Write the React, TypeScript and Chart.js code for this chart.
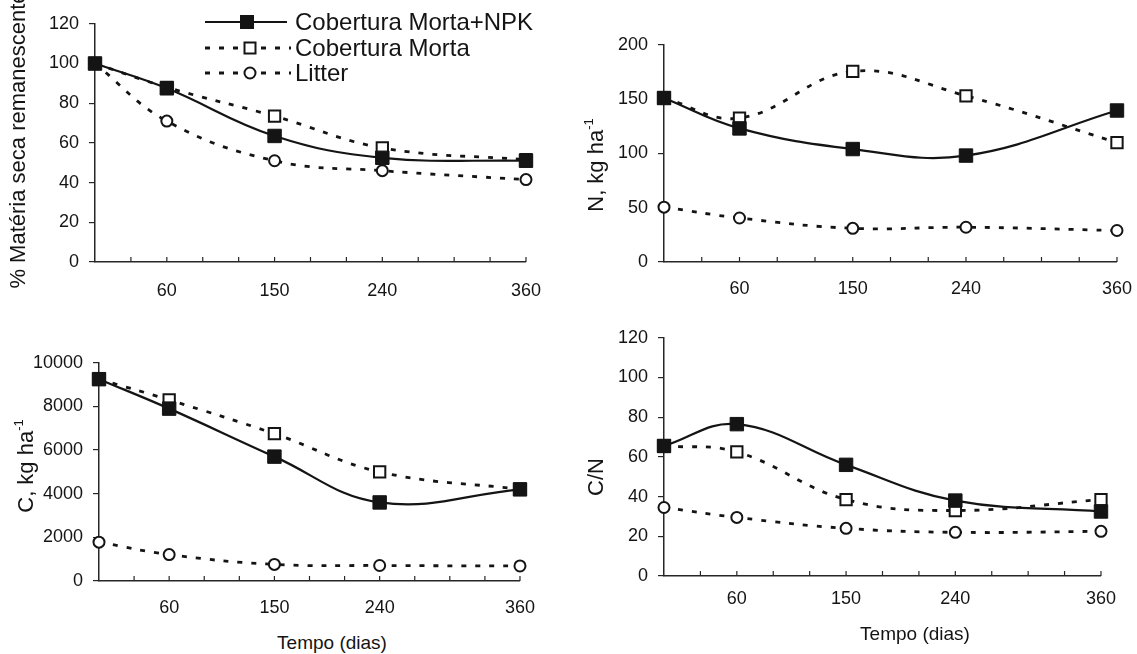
import React, { useEffect, useRef } from "react";
import { Chart, registerables } from "chart.js";

Chart.register(...registerables);

// ---------------- data ----------------
const days = [0, 60, 150, 240, 360];
const xTickLabels = [60, 150, 240, 360];
const minorTickStep = 30;

const seriesNames = ["Cobertura Morta+NPK", "Cobertura Morta", "Litter"];

// % Matéria seca remanescente
const msNPK = [100, 87.5, 63.5, 52.5, 51];
const msCM = [100, 88, 73.5, 57.5, 51.5];
const msLitter = [100, 71, 51, 46, 41.5];

// N, kg ha-1
const nNPK = [151, 123, 104, 98, 139.5];
const nCM = [151, 132.5, 175.5, 153, 110];
const nLitter = [50.5, 40.5, 31, 32, 29];

// C, kg ha-1
const cNPK = [9250, 7900, 5700, 3600, 4200];
const cCM = [9250, 8300, 6750, 5000, 4200];
const cLitter = [1780, 1210, 760, 710, 690];

// C/N
const cnNPK = [65.5, 76.5, 56, 38, 32.5];
const cnCM = [65.5, 62.5, 38.5, 33, 38.5];
const cnLitter = [34.5, 29.5, 24, 22, 22.5];

// ---------------- styling ----------------
const FONT = '"Liberation Sans", Arial, Helvetica, sans-serif';
const INK = "#141414";
const AXIS = "#262626";
const DASH = [5, 9];
const Y_W = 80;
const X_H = 50;
const PAD_T = 20;
const PAD_R = 20;

type PanelCfg = {
  key: string;
  left: number;
  right: number;
  top: number;
  bottom: number;
  yMax: number;
  yStep: number;
  xPad: number;
  series: number[][];
};

const panels: PanelCfg[] = [
  { key: "ms", left: 95, right: 539, top: 23, bottom: 262, yMax: 120, yStep: 20, xPad: 18, series: [msNPK, msCM, msLitter] },
  { key: "n", left: 664, right: 1128, top: 44, bottom: 262, yMax: 200, yStep: 50, xPad: 16, series: [nNPK, nCM, nLitter] },
  { key: "c", left: 99, right: 531, top: 362, bottom: 581, yMax: 10000, yStep: 2000, xPad: 16, series: [cNPK, cCM, cLitter] },
  { key: "cn", left: 664, right: 1108, top: 337, bottom: 576, yMax: 120, yStep: 20, xPad: 12, series: [cnNPK, cnCM, cnLitter] },
];

const innerXTicks = {
  id: "innerXTicks",
  afterDraw(chart: any) {
    const xs = chart.scales.x;
    const { ctx, chartArea } = chart;
    ctx.save();
    ctx.strokeStyle = AXIS;
    ctx.lineWidth = 1.2;
    for (let v = xs.min + minorTickStep; v <= xs.max + 0.001; v += minorTickStep) {
      const px = xs.getPixelForValue(v);
      ctx.beginPath();
      ctx.moveTo(px, chartArea.bottom);
      ctx.lineTo(px, chartArea.bottom - 5);
      ctx.stroke();
    }
    ctx.restore();
  },
};

function makeDatasets(series: number[][]) {
  const pts = (vals: number[]) => days.map((d, i) => ({ x: d, y: vals[i] }));
  return [
    {
      label: seriesNames[0],
      data: pts(series[0]),
      borderColor: INK,
      backgroundColor: INK,
      borderWidth: 2.2,
      tension: 0.4,
      pointStyle: "rect",
      pointRadius: 9.5,
      pointBorderWidth: 1,
      pointBackgroundColor: INK,
      pointBorderColor: INK,
      clip: false,
    },
    {
      label: seriesNames[1],
      data: pts(series[1]),
      borderColor: INK,
      backgroundColor: "#fff",
      borderWidth: 2.8,
      borderDash: DASH,
      tension: 0.4,
      pointStyle: "rect",
      pointRadius: 8,
      pointBorderWidth: 2,
      pointBackgroundColor: "#fff",
      pointBorderColor: INK,
      clip: false,
    },
    {
      label: seriesNames[2],
      data: pts(series[2]),
      borderColor: INK,
      backgroundColor: "#fff",
      borderWidth: 2.8,
      borderDash: DASH,
      tension: 0.4,
      pointStyle: "circle",
      pointRadius: 5.5,
      pointBorderWidth: 2,
      pointBackgroundColor: "#fff",
      pointBorderColor: INK,
      clip: false,
    },
  ];
}

function Panel({ cfg }: { cfg: PanelCfg }) {
  const ref = useRef<HTMLCanvasElement | null>(null);
  const w = cfg.right - cfg.left + Y_W + PAD_R;
  const h = cfg.bottom - cfg.top + PAD_T + X_H;
  useEffect(() => {
    if (!ref.current) return;
    const chart = new Chart(ref.current, {
      type: "line",
      data: { datasets: makeDatasets(cfg.series) as any },
      options: {
        animation: false,
        responsive: false,
        devicePixelRatio: 1,
        layout: { padding: { top: PAD_T, right: PAD_R, left: 0, bottom: 0 } },
        plugins: { legend: { display: false }, tooltip: { enabled: false } },
        scales: {
          x: {
            type: "linear",
            min: 0,
            max: 360,
            afterBuildTicks: (axis: any) => {
              axis.ticks = xTickLabels.map((v) => ({ value: v }));
            },
            afterFit: (scale: any) => {
              scale.height = X_H;
            },
            ticks: {
              font: { family: FONT, size: 18 },
              color: INK,
              padding: cfg.xPad,
              maxRotation: 0,
              autoSkip: false,
              callback: (v: any) => String(v),
            },
            grid: { display: false, drawTicks: false },
            border: { display: true, color: AXIS, width: 1.5 },
          },
          y: {
            min: 0,
            max: cfg.yMax,
            afterFit: (scale: any) => {
              scale.width = Y_W;
            },
            ticks: {
              stepSize: cfg.yStep,
              font: { family: FONT, size: 18 },
              color: INK,
              padding: 10,
              callback: (v: any) => String(v),
            },
            grid: {
              display: true,
              drawOnChartArea: false,
              drawTicks: true,
              tickLength: 6,
              color: AXIS,
              lineWidth: 1.2,
            },
            border: { display: true, color: AXIS, width: 1.5 },
          },
        },
      } as any,
      plugins: [innerXTicks],
    });
    return () => chart.destroy();
  }, [cfg]);
  return (
    <canvas
      ref={ref}
      width={w}
      height={h}
      style={{ position: "absolute", left: cfg.left - Y_W, top: cfg.top - PAD_T, width: w, height: h }}
    />
  );
}

const textBase: React.CSSProperties = {
  position: "absolute",
  fontFamily: FONT,
  color: INK,
  whiteSpace: "nowrap",
  lineHeight: 1,
};

function YTitle({ x, y, children }: { x: number; y: number; children: React.ReactNode }) {
  return (
    <div style={{ ...textBase, left: x, top: y, fontSize: 22, transform: "translate(-50%, -50%) rotate(-90deg)" }}>
      {children}
    </div>
  );
}

function XTitle({ x, y, text }: { x: number; y: number; text: string }) {
  return <div style={{ ...textBase, left: x, top: y, fontSize: 19, transform: "translate(-50%, -50%)" }}>{text}</div>;
}

function LegendIcon({ kind }: { kind: number }) {
  return (
    <svg width={88} height={26} style={{ display: "block" }}>
      {kind === 0 ? (
        <>
          <line x1={2} y1={13} x2={84} y2={13} stroke={INK} strokeWidth={2.2} />
          <rect x={44 - 7} y={13 - 7} width={14} height={14} fill={INK} />
        </>
      ) : (
        <>
          <line x1={2} y1={13} x2={88} y2={13} stroke={INK} strokeWidth={2.8} strokeDasharray={DASH.join(" ")} />
          {kind === 1 ? (
            <rect x={47 - 5.5} y={13 - 5.5} width={11} height={11} fill="#fff" stroke={INK} strokeWidth={2} />
          ) : (
            <circle cx={47} cy={13} r={5.5} fill="#fff" stroke={INK} strokeWidth={2} />
          )}
        </>
      )}
    </svg>
  );
}

const legendRowsY = [22, 48, 73];

export default function App() {
  return (
    <div
      style={{
        position: "absolute",
        left: 0,
        top: 0,
        width: 1137,
        height: 654,
        overflow: "hidden",
        background: "#fff",
      }}
    >
      {panels.map((p) => (
        <Panel key={p.key} cfg={p} />
      ))}

      <YTitle x={18} y={140}>% Matéria seca remanescente</YTitle>
      <YTitle x={596} y={165}>
        N, kg ha<sup style={{ fontSize: 13, verticalAlign: "top", position: "relative", top: -3 }}>-1</sup>
      </YTitle>
      <YTitle x={26} y={466}>
        C, kg ha<sup style={{ fontSize: 13, verticalAlign: "top", position: "relative", top: -3 }}>-1</sup>
      </YTitle>
      <YTitle x={596} y={477}>C/N</YTitle>

      <XTitle x={332} y={642} text="Tempo (dias)" />
      <XTitle x={915} y={633} text="Tempo (dias)" />

      {seriesNames.map((name, i) => (
        <div
          key={name}
          style={{
            position: "absolute",
            left: 203,
            top: legendRowsY[i] - 13,
            height: 26,
            display: "flex",
            alignItems: "center",
          }}
        >
          <LegendIcon kind={i} />
          <span style={{ fontFamily: FONT, fontSize: 24, color: INK, marginLeft: 4, lineHeight: "26px", whiteSpace: "nowrap" }}>
            {name}
          </span>
        </div>
      ))}
    </div>
  );
}
